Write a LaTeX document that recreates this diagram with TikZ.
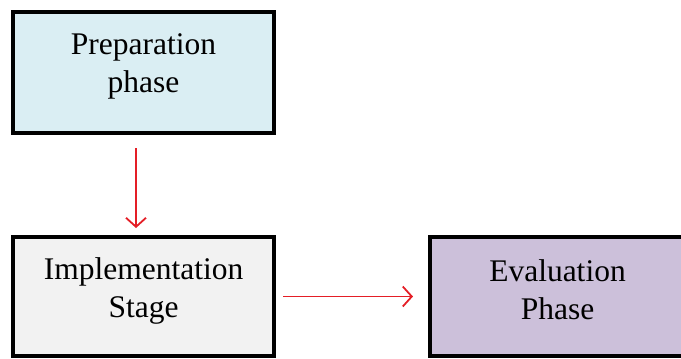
\documentclass[tikz,border=0pt]{standalone}
\usepackage{fontspec}
\setmainfont{Liberation Serif}
\usetikzlibrary{arrows.meta}
\definecolor{prepfill}{RGB}{218,238,243}
\definecolor{implfill}{RGB}{242,242,242}
\definecolor{evalfill}{RGB}{204,192,218}
\definecolor{flowred}{RGB}{228,30,38}
\begin{document}
\begin{tikzpicture}[x=0.5pt, y=-0.5pt,
        box/.style={draw, line width=2pt, rectangle, inner sep=0pt},
        txt/.style={align=center, inner sep=0pt, font=\fontsize{15.75}{19}\selectfont},
        flow/.style={-{Straight Barb[length=4.5pt, width=10pt]}, color=flowred, line width=0.9pt}]
        \useasboundingbox (0,0) rectangle (681,359);
        \node[box, fill=prepfill, minimum width=130.5pt, minimum height=60.5pt](prep) at (143.5,72.5) {};
        \node[box, fill=implfill, minimum width=130.5pt, minimum height=59.5pt](impl) at (143.5,296.5) {};
        \node[box, fill=evalfill, minimum width=132pt, minimum height=59.5pt](eval) at (562,296.5) {};
        \node[txt](prepText) at (143.5,66.5) {Preparation\\phase};
        \node[txt](implText) at (143.5,290.5) {Implementation\\Stage};
        \node[txt](evalText) at (557.5,289.5) {Evaluation\\Phase};
        \path
            ([xshift=-3.75pt]prep.south)
                edge [flow, shorten <=6.5pt, shorten >=3.5pt] ([xshift=-3.75pt]impl.north)
            (impl.east)
                edge [flow, shorten <=3.5pt, shorten >=7.5pt] (eval.west)
            ;
    \end{tikzpicture}
\end{document}
